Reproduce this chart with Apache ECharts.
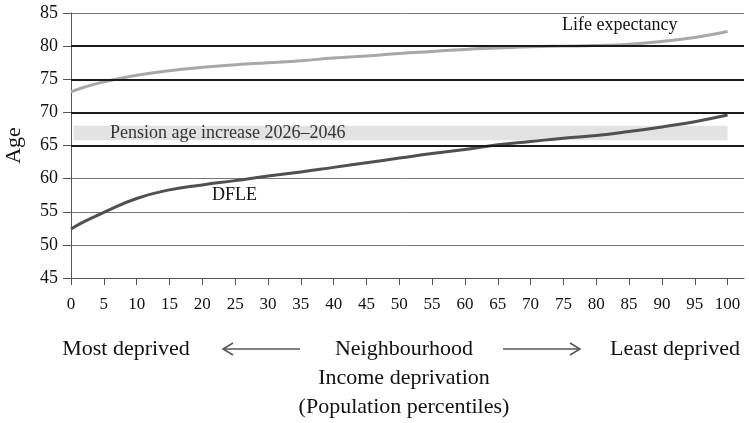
<!DOCTYPE html>
<html><head><meta charset="utf-8">
<script src="https://cdn.jsdelivr.net/npm/echarts@6/dist/echarts.min.js"></script>
<style>html,body{margin:0;padding:0;background:#fff}#c{width:749px;height:423px}</style>
</head><body><div id="c"></div>
<script>
const percentiles = [0, 2, 5, 10, 15, 20, 25, 30, 35, 40, 45, 50, 55, 60, 65, 70, 75, 80, 85, 90, 95, 100];
const lifeExpectancy = [73.1, 73.8, 74.6, 75.6, 76.3, 76.8, 77.2, 77.5, 77.8, 78.2, 78.5, 78.9, 79.2, 79.5, 79.7, 79.9, 80.0, 80.1, 80.3, 80.7, 81.3, 82.2];
const dfle = [52.4, 53.5, 54.9, 57.0, 58.3, 59.05, 59.7, 60.4, 61.0, 61.7, 62.4, 63.1, 63.8, 64.4, 65.1, 65.6, 66.1, 66.5, 67.1, 67.8, 68.6, 69.6];
const xTicks = [0,5,10,15,20,25,30,35,40,45,50,55,60,65,70,75,80,85,90,95,100];
const boldLines = [65, 70, 75, 80];
const pensionBand = [65.8, 68];
const FONT = 'Liberation Serif';

const chart = echarts.init(document.getElementById('c'), null, {renderer: 'canvas'});
chart.setOption({
  animation: false,
  grid: {left: 71, right: 5, top: 13, bottom: 145, containLabel: false, outerBoundsMode: 'none'},
  xAxis: {
    type: 'value', min: 0, max: 102.5, interval: 5,
    axisLine: {show: true, lineStyle: {color: '#555', width: 1}},
    axisTick: {show: true, length: 7, lineStyle: {color: '#555'}, customValues: xTicks},
    axisLabel: {color: '#111', fontFamily: FONT, fontSize: 17, margin: 18, customValues: xTicks},
    splitLine: {show: false}
  },
  yAxis: {
    type: 'value', min: 45, max: 85, interval: 5,
    name: 'Age', nameLocation: 'middle', nameGap: 46,
    nameTextStyle: {color: '#111', fontFamily: FONT, fontSize: 22},
    axisLine: {show: true, lineStyle: {color: '#555', width: 1}},
    axisTick: {show: true, length: 8, lineStyle: {color: '#555'}},
    axisLabel: {color: '#111', fontFamily: FONT, fontSize: 18, margin: 13},
    splitLine: {show: true, lineStyle: {color: '#777', width: 1}}
  },
  series: [
    {
      type: 'line', name: 'Pension band', data: [],
      markArea: {silent: true, itemStyle: {color: '#e3e3e3'},
        data: [[{xAxis: 0.4, yAxis: pensionBand[0]}, {xAxis: 100, yAxis: pensionBand[1]}]]}
    },
    {
      type: 'line', name: 'grid', data: [],
      markLine: {silent: true, symbol: 'none', label: {show: false},
        lineStyle: {color: '#1a1a1a', width: 2, type: 'solid'},
        data: boldLines.map(v => ({yAxis: v}))}
    },
    {
      type: 'line', name: 'Life expectancy', smooth: true, showSymbol: false,
      lineStyle: {color: '#a8a8a8', width: 3},
      data: percentiles.map((p, i) => [p, lifeExpectancy[i]])
    },
    {
      type: 'line', name: 'DFLE', smooth: true, showSymbol: false,
      lineStyle: {color: '#505050', width: 3},
      data: percentiles.map((p, i) => [p, dfle[i]])
    }
  ],
  graphic: [
    {type: 'text', z: 100, left: 562, top: 16, style: {text: 'Life expectancy', font: '18px "Liberation Serif"', fill: '#111'}},
    {type: 'text', z: 100, left: 110, top: 124, style: {text: 'Pension age increase 2026\u20132046', font: '18px "Liberation Serif"', fill: '#333'}},
    {type: 'text', z: 100, left: 212, top: 186, style: {text: 'DFLE', font: '18px "Liberation Serif"', fill: '#111'}},
    {type: 'text', z: 100, x: 126, y: 349, style: {text: 'Most deprived', font: '22px "Liberation Serif"', fill: '#111', align: 'center', verticalAlign: 'middle'}},
    {type: 'text', z: 100, x: 404, y: 349, style: {text: 'Neighbourhood', font: '22px "Liberation Serif"', fill: '#111', align: 'center', verticalAlign: 'middle'}},
    {type: 'text', z: 100, x: 675, y: 349, style: {text: 'Least deprived', font: '22px "Liberation Serif"', fill: '#111', align: 'center', verticalAlign: 'middle'}},
    {type: 'text', z: 100, x: 404, y: 378, style: {text: 'Income deprivation', font: '22px "Liberation Serif"', fill: '#111', align: 'center', verticalAlign: 'middle'}},
    {type: 'text', z: 100, x: 404, y: 407, style: {text: '(Population percentiles)', font: '22px "Liberation Serif"', fill: '#111', align: 'center', verticalAlign: 'middle'}},
    {type: 'line', z: 100, shape: {x1: 223, y1: 349, x2: 300, y2: 349}, style: {stroke: '#555', lineWidth: 1.5}},
    {type: 'polyline', z: 100, shape: {points: [[233, 343], [223, 349], [233, 355]]}, style: {stroke: '#555', lineWidth: 1.5, fill: null}},
    {type: 'line', z: 100, shape: {x1: 503, y1: 349, x2: 580, y2: 349}, style: {stroke: '#555', lineWidth: 1.5}},
    {type: 'polyline', z: 100, shape: {points: [[570, 343], [580, 349], [570, 355]]}, style: {stroke: '#555', lineWidth: 1.5, fill: null}}
  ]
});
</script></body></html>
